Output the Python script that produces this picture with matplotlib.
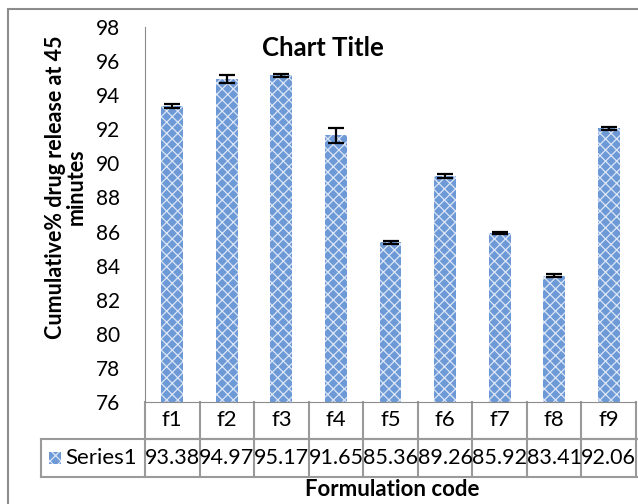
import matplotlib
matplotlib.use("Agg")
import matplotlib.pyplot as plt
import matplotlib.transforms as mtransforms
from matplotlib.patches import Rectangle

categories = ["f1", "f2", "f3", "f4", "f5", "f6", "f7", "f8", "f9"]
values = [93.38, 94.97, 95.17, 91.65, 85.36, 89.26, 85.92, 83.41, 92.06]
errors = [0.12, 0.24, 0.08, 0.45, 0.1, 0.1, 0.04, 0.1, 0.08]
series_name = "Series1"
y_ticks = list(range(76, 99, 2))

plt.rcParams["font.family"] = ["Lato", "DejaVu Sans"]
plt.rcParams["hatch.linewidth"] = 0.9

W, H = 638, 504
fig = plt.figure(figsize=(W / 100, H / 100), dpi=100)

# chart border (cut off at right/bottom like the screenshot)
fig.patches.append(Rectangle((8 / W, -0.1), 1.2, 1 - 9 / H + 0.1, transform=fig.transFigure,
                             fill=False, edgecolor="#8c8c8c", linewidth=1.5))

ax_w = 491
cat_w = ax_w / len(categories)
ax = fig.add_axes([145 / W, 102 / H, ax_w / W, 375 / H])
x = list(range(len(categories)))
bar_color = "#6d99d7"
ax.bar(x, [v - 76 for v in values], bottom=76, width=0.4, color=bar_color,
       edgecolor="#dce6f5", hatch="xxx", linewidth=0)
ax.errorbar(x, values, yerr=errors, fmt="none", ecolor="black", elinewidth=1.6,
            capsize=6, capthick=1.6)

ax.set_xlim(-0.5, len(categories) - 0.5)
ax.set_ylim(76, 98)
ax.set_yticks(y_ticks)
ax.set_xticks([])
ax.tick_params(axis="y", length=0, labelsize=15, pad=18)
for s in ["top", "right"]:
    ax.spines[s].set_visible(False)
ax.spines["left"].set_color("#8c8c8c")
ax.spines["bottom"].set_color("#8c8c8c")

# data table below the axis
tr = mtransforms.blended_transform_factory(ax.transData, ax.transAxes)
row1 = -37 / 375
row2 = -75 / 375
left_x = -0.5 - 104 / cat_w
right_x = 8.7
grid = "#9a9a9a"
ax.plot([-0.5, right_x], [row1, row1], transform=tr, color=grid, lw=1.5, clip_on=False)
ax.plot([left_x, right_x], [row1, row1], transform=tr, color=grid, lw=1.5, clip_on=False)
ax.plot([left_x, right_x], [row2, row2], transform=tr, color=grid, lw=1.5, clip_on=False)
ax.plot([left_x, left_x], [row1, row2], transform=tr, color=grid, lw=1.5, clip_on=False)
for i in range(len(categories) + 1):
    ax.plot([i - 0.5, i - 0.5], [0, row2], transform=tr, color=grid, lw=1.5, clip_on=False)
for i, (c, v) in enumerate(zip(categories, values)):
    ax.text(i, row1 / 2, c, transform=tr, ha="center", va="center", fontsize=16)
    ax.text(i, (row1 + row2) / 2, f"{v:.2f}", transform=tr, ha="center", va="center",
            fontsize=15.5, clip_on=False)
ax.text(left_x + 0.44, (row1 + row2) / 2, series_name, transform=tr, ha="left",
        va="center", fontsize=16)
ax.add_patch(Rectangle((left_x + 0.15, (row1 + row2) / 2 - 0.016), 0.22, 0.032,
                       transform=tr, facecolor=bar_color, edgecolor="#dce6f5", hatch="xxx",
                       linewidth=0, clip_on=False))

fig.text(323 / W, 1 - 48 / H, "Chart Title", ha="center", va="center",
         fontsize=18.5, fontweight="bold")
fig.text(66 / W, 1 - 187 / H, "Cumulative% drug release at 45\nminutes", rotation=90,
         ha="center", va="center", multialignment="center", fontsize=15.5,
         fontweight="bold", linespacing=1.0)
fig.text(392 / W, 1 - 490 / H, "Formulation code", ha="center", va="center",
         fontsize=16, fontweight="bold")

fig.savefig("out.png", dpi=100)
